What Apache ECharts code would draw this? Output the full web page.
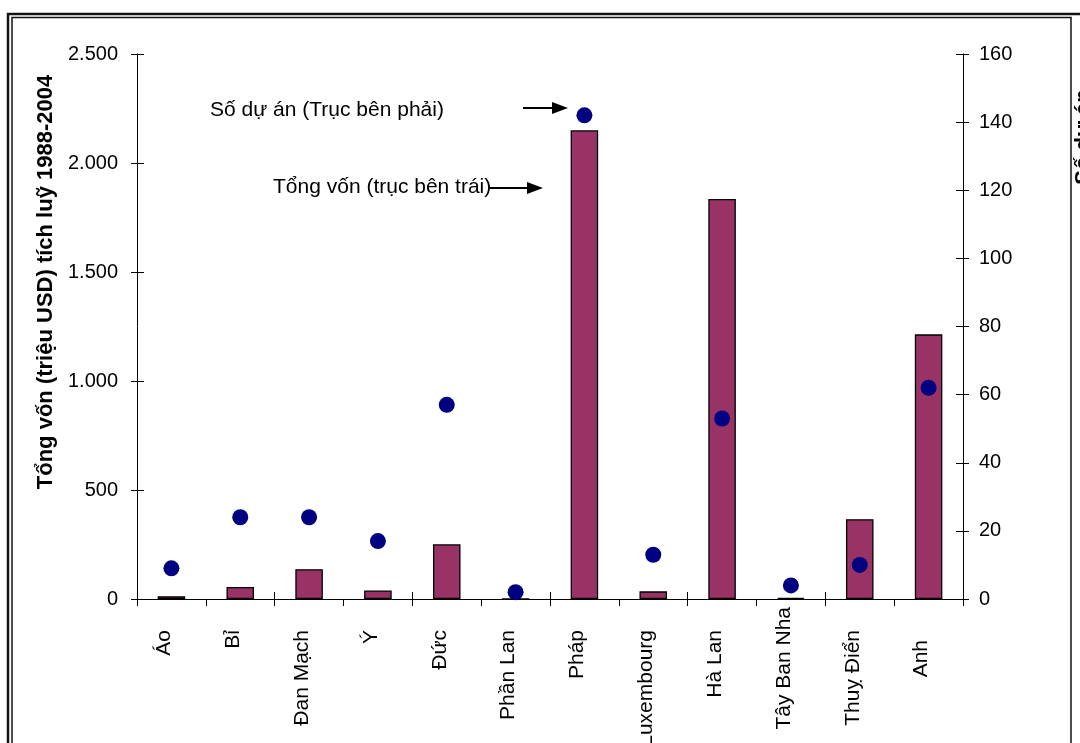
<!DOCTYPE html>
<html>
<head>
<meta charset="utf-8">
<script src="https://cdn.jsdelivr.net/npm/echarts@6/dist/echarts.min.js"></script>
<style>
  html, body { margin: 0; padding: 0; background: #fff; }
  #chart { width: 1080px; height: 743px; }
</style>
</head>
<body>
<div id="chart"></div>
<script>
// Countries (category axis)
const categories = ['Áo', 'Bỉ', 'Đan Mạch', 'Ý', 'Đức', 'Phần Lan', 'Pháp', 'Luxembourg', 'Hà Lan', 'Tây Ban Nha', 'Thuỵ Điển', 'Anh'];
// Cumulative capital 1988-2004, million USD (left axis)
const capital = [13, 55, 137, 39, 251, 1, 2150, 35, 1835, 5, 366, 1214];
// Number of projects (right axis)
const projects = [9, 24, 24, 17, 57, 2, 142, 13, 53, 4, 10, 62];

// Axis ranges
const leftMax = 2500, leftStep = 500;
const rightMax = 160, rightStep = 20;

// Rich-text style used for each rotated category label (gap before the text)
const labelKind = ['n', 'n', 'n', 'n', 'n', 'n', 'n', 'n', 'n', 'z', 'n', 'w'];

const FONT = '"Liberation Sans", Arial, sans-serif';
const black = '#000';

function dotted(v) {
  return String(v).replace(/\B(?=(\d{3})+(?!\d))/g, '.');
}

const chart = echarts.init(document.getElementById('chart'), null, { renderer: 'canvas' });

function arrow(x1, x2, y) {
  return [
    { type: 'line', shape: { x1: x1, y1: y, x2: x2 - 14, y2: y }, style: { stroke: black, lineWidth: 2 } },
    { type: 'polygon', shape: { points: [[x2 - 16, y - 6], [x2, y], [x2 - 16, y + 6]] }, style: { fill: black } }
  ];
}

const richBase = { fontFamily: FONT, fontSize: 21, color: black };

const option = {
  backgroundColor: '#fff',
  animation: false,
  grid: { left: 137, right: 117, top: 54, bottom: 144, outerBoundsMode: 'none', containLabel: false },
  xAxis: [
    {
      type: 'category',
      data: categories,
      position: 'bottom',
      axisLine: { lineStyle: { color: black, width: 1 } },
      axisTick: { show: true, length: 7, lineStyle: { color: black } },
      axisLabel: {
        rotate: 90, margin: 8, fontFamily: FONT, fontSize: 21, color: black, interval: 0,
        formatter: (v, i) => '{' + labelKind[i] + '|' + v + '}',
        rich: {
          n: Object.assign({ padding: [0, 23, 14, 0] }, richBase),
          z: Object.assign({ padding: [0, 0, 14, 0] }, richBase),
          w: Object.assign({ padding: [0, 33, 14, 0] }, richBase)
        }
      },
      splitLine: { show: false }
    },
    {
      type: 'category',
      data: categories,
      position: 'bottom',
      axisLine: { show: false },
      axisTick: { show: true, inside: true, length: 7, lineStyle: { color: black } },
      axisLabel: { show: false },
      splitLine: { show: false }
    }
  ],
  yAxis: [
    {
      type: 'value', position: 'left', min: 0, max: leftMax, interval: leftStep,
      axisLine: { show: true, lineStyle: { color: black } },
      axisTick: { show: true, length: 6, lineStyle: { color: black } },
      axisLabel: { margin: 19, fontFamily: FONT, fontSize: 20, color: black, formatter: dotted },
      splitLine: { show: false }
    },
    {
      type: 'value', position: 'right', min: 0, max: rightMax, interval: rightStep,
      axisLine: { show: true, lineStyle: { color: black } },
      axisTick: { show: true, length: 6, lineStyle: { color: black } },
      axisLabel: { margin: 16, fontFamily: FONT, fontSize: 20, color: black },
      splitLine: { show: false }
    },
    {
      type: 'value', position: 'left', min: 0, max: leftMax, interval: leftStep,
      axisLine: { show: false },
      axisTick: { show: true, inside: true, length: 7, lineStyle: { color: black } },
      axisLabel: { show: false },
      splitLine: { show: false }
    },
    {
      type: 'value', position: 'right', min: 0, max: rightMax, interval: rightStep,
      axisLine: { show: false },
      axisTick: { show: true, inside: true, length: 7, lineStyle: { color: black } },
      axisLabel: { show: false },
      splitLine: { show: false }
    }
  ],
  series: [
    {
      name: 'Tổng vốn',
      type: 'bar',
      xAxisIndex: 0,
      yAxisIndex: 0,
      data: capital,
      barWidth: '40%',
      itemStyle: { color: '#993366', borderColor: '#000', borderWidth: 1.3 },
      z: 2
    },
    {
      name: 'Số dự án',
      type: 'scatter',
      xAxisIndex: 0,
      yAxisIndex: 1,
      data: projects,
      symbol: 'circle',
      symbolSize: 16,
      itemStyle: { color: '#000080', opacity: 1 },
      z: 3
    }
  ],
  graphic: [
    // double frame
    { type: 'rect', shape: { x: 8, y: 14, width: 1100, height: 800 }, style: { fill: null, stroke: '#111', lineWidth: 2.5 }, silent: true },
    { type: 'rect', shape: { x: 12, y: 17.5, width: 1059, height: 800 }, style: { fill: null, stroke: '#111', lineWidth: 1.5 }, silent: true },
    // axis titles
    {
      type: 'text', x: 46, y: 282, rotation: Math.PI / 2,
      style: { text: 'Tổng vốn (triệu USD) tích luỹ 1988-2004', font: 'bold 22px ' + FONT, fill: black, textAlign: 'center', textVerticalAlign: 'middle' }
    },
    {
      type: 'text', x: 1084, y: 137, rotation: Math.PI / 2,
      style: { text: 'Số dự án', font: 'bold 22px ' + FONT, fill: black, textAlign: 'center', textVerticalAlign: 'middle' }
    },
    // annotations
    {
      type: 'text', x: 210, y: 110,
      style: { text: 'Số dự án (Trục bên phải)', font: '21px ' + FONT, fill: black, textAlign: 'left', textVerticalAlign: 'middle' }
    },
    {
      type: 'text', x: 273, y: 187,
      style: { text: 'Tổng vốn (trục bên trái)', font: '21px ' + FONT, fill: black, textAlign: 'left', textVerticalAlign: 'middle' }
    },
    ...arrow(523, 568, 108),
    ...arrow(489, 543, 188)
  ]
};

chart.setOption(option);
</script>
</body>
</html>
